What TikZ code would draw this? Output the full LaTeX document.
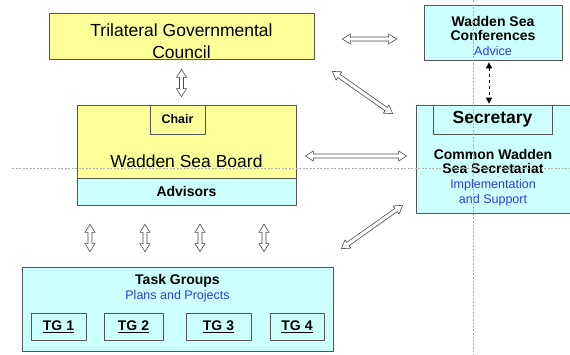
\documentclass[tikz,border=0pt]{standalone}
\usepackage{fontspec}
\setmainfont{Liberation Sans}
\usetikzlibrary{arrows.meta,calc}
\definecolor{boardyellow}{RGB}{255,255,153}
\definecolor{secrcyan}{RGB}{204,255,255}
\definecolor{edgegray}{RGB}{85,85,85}
\definecolor{noteblue}{RGB}{45,60,230}
\definecolor{guidegray}{RGB}{175,175,175}
\tikzset{
  box/.style={draw=edgegray, line width=0.7pt, inner sep=0pt},
  ybox/.style={box, fill=boardyellow},
  cbox/.style={box, fill=secrcyan},
  bigtxt/.style={font=\fontsize{17.5}{22}\selectfont},
  boldtxt/.style={font=\fontsize{14}{14.6}\selectfont\bfseries},
  % outlined block arrow with a head at both ends
  hollow/.style={draw=gray!60!black, fill=white, line width=0.6pt, line join=miter,
    to path={
      -- ($(\tikztostart)!8pt!(\tikztotarget)!5pt!90:(\tikztotarget)$)
      -- ($(\tikztostart)!8pt!(\tikztotarget)!2pt!90:(\tikztotarget)$)
      -- ($(\tikztotarget)!8pt!(\tikztostart)!2pt!-90:(\tikztostart)$)
      -- ($(\tikztotarget)!8pt!(\tikztostart)!5pt!-90:(\tikztostart)$)
      -- (\tikztotarget)
      -- ($(\tikztotarget)!8pt!(\tikztostart)!5pt!90:(\tikztostart)$)
      -- ($(\tikztotarget)!8pt!(\tikztostart)!2pt!90:(\tikztostart)$)
      -- ($(\tikztostart)!8pt!(\tikztotarget)!2pt!-90:(\tikztotarget)$)
      -- ($(\tikztostart)!8pt!(\tikztotarget)!5pt!-90:(\tikztotarget)$)
      -- cycle}},
  guide/.style={guidegray, line width=0.5pt, dash pattern=on 2pt off 1.5pt}
}
\newcommand{\note}[1]{{\color{noteblue}\fontsize{12.5}{14.6}\selectfont\mdseries #1}}
\begin{document}
\begin{tikzpicture}[x=1pt,y=-1pt, line join=round]
  \useasboundingbox (0,0) rectangle (570,354);
  % governance boxes
  \node[ybox, minimum width=265pt, minimum height=46pt] (tgc) at (181.5,36) {};
  \begin{scope}
    \clip (tgc.south west) rectangle (tgc.north east);
    \node[bigtxt, align=center, anchor=base] (tgcname) at (181.5,58.5) {Trilateral Governmental\\Council};
  \end{scope}
  \node[ybox, minimum width=219pt, minimum height=73pt] (wsb) at (186.5,141.5) {};
  \node[cbox, minimum width=219pt, minimum height=27pt, boldtxt] (adv) at (186.5,191.5) {Advisors};
  \node[box, minimum width=55pt, minimum height=29pt, font=\fontsize{12.5}{14}\selectfont\bfseries] (chair) at (177.5,119.5) {Chair};
  \node[bigtxt, anchor=base] (wsbname) at (186.5,167.7) {Wadden Sea Board};
  % conferences and secretariat
  \node[cbox, minimum width=138pt, minimum height=55pt] (wsc) at (493,32.5) {};
  \node[boldtxt, align=center, anchor=base] (wscname) at (493,55.5) {Wadden Sea\\Conferences\\\note{Advice}};
  \node[cbox, minimum width=156pt, minimum height=108pt] (sec) at (494,159) {};
  \node[box, minimum width=119pt, minimum height=29pt, font=\fontsize{17.5}{20}\selectfont\bfseries] (secy) at (492.5,119.5) {Secretary};
  \node[boldtxt, align=center, anchor=base] (secname) at (493,203) {Common Wadden\\Sea Secretariat\\\note{Implementation}\\\note{and Support}};
  % task groups
  \node[cbox, minimum width=311pt, minimum height=84pt] (tg) at (177.5,309) {};
  \node[boldtxt, align=center, anchor=base] (tgname) at (177.5,299) {Task Groups\\\note{Plans and Projects}};
  \foreach \i/\cx/\w in {1/58.5/55, 2/133.5/59, 3/218.5/65, 4/297/54}
    \node[box, minimum width=\w pt, minimum height=27pt, boldtxt] (tg\i) at (\cx,326.5) {\underline{TG \i}};
  % connections
  \draw[hollow] ([yshift=-10pt]tgc.south) to ([yshift=8pt]tgc.south |- wsb.north);
  \draw[hollow] ([xshift=28pt,yshift=-3pt]tgc.east) to ([xshift=-27pt,yshift=-3pt]tgc.east -| wsc.west);
  \draw[hollow] ([xshift=18pt,yshift=-12pt]tgc.south east) to ([xshift=-23pt,yshift=-9pt]sec.north west);
  \draw[hollow] ([xshift=9pt,yshift=-14.5pt]wsb.east) to ([xshift=-9pt,yshift=-14.5pt]wsb.east -| sec.west);
  \draw[hollow] ([xshift=8pt,yshift=18pt]tg.north east) to ([xshift=-13pt,yshift=8pt]sec.south west);
  \foreach \ax in {90,145,200,264}
    \draw[hollow] ([yshift=15pt]tg.north -| \ax,0) to ([yshift=-19pt]adv.south -| \ax,0);
  \draw[dashed, line width=1pt, {Triangle[length=6pt,width=6pt]}-{Triangle[length=6pt,width=6pt]}]
    ([xshift=-4pt,yshift=-2pt]wsc.south) -- ([xshift=-4pt,yshift=1pt]wsc.south |- secy.north);
  % slide guides
  \draw[guide] (473,0) -- (473,354);
  \draw[guide] (12,168) -- (570,168);
\end{tikzpicture}
\end{document}
